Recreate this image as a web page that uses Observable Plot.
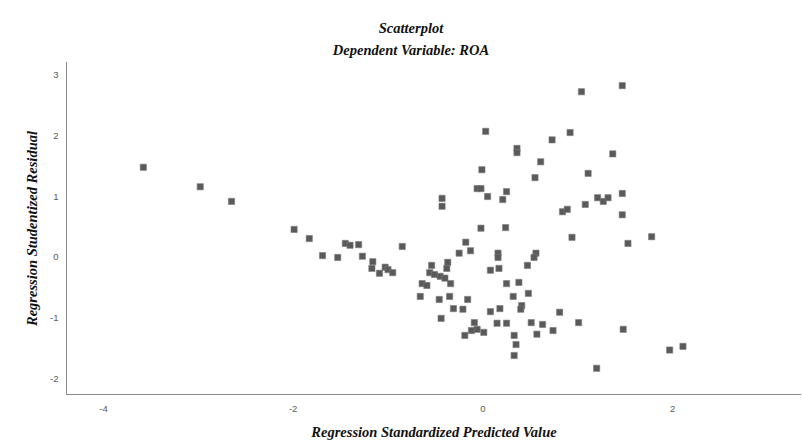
<!DOCTYPE html>
<html>
<head>
<meta charset="utf-8">
<script src="https://cdn.jsdelivr.net/npm/d3@7"></script>
<script src="https://cdn.jsdelivr.net/npm/@observablehq/plot@0.6"></script>
<style>
  html, body { margin: 0; padding: 0; background: #fff; }
  #wrap { width: 802px; height: 441px; overflow: hidden; position: relative; }
  .t { position: absolute; left: 0; width: 802px; text-align: center;
       font-family: "Liberation Serif", "DejaVu Serif", serif; font-weight: bold; font-style: italic;
       color: #111; line-height: 1; }
  #t1 { top: 21px; font-size: 14.5px; padding-left: 20px; box-sizing: border-box; }
  #t2 { top: 43px; font-size: 14.5px; padding-left: 20px; box-sizing: border-box; }
  #chart { position: absolute; top: 58px; left: 0; }
</style>
</head>
<body>
<div id="wrap">
  <div class="t" id="t1">Scatterplot</div>
  <div class="t" id="t2">Dependent Variable: ROA</div>
  <div id="chart"></div>
</div>
<script>
const predicted = [
  -3.58, -2.98, -2.65, -1.99, -1.83, -1.69, -1.53, -1.45, -1.40, -1.31,
  -1.27, -1.16, -1.17, -1.09, -1.03, -1.00, -0.95, -0.85, -0.66, -0.64,
  -0.59, -0.56, -0.51, -0.45, -0.40, -0.54, -0.37, -0.38, -0.34, -0.46,
  -0.35, -0.44, -0.31, -0.21, -0.43, -0.43, -0.16, -0.18, -0.25, -0.13,
  -0.09, -0.12, -0.06, 0.01, -0.19, 0.03, -0.01, -0.06, -0.02, 0.05,
  -0.02, 0.08, 0.17, 0.16, 0.16, 0.25, 0.38, 0.08, 0.18, 0.15,
  0.25, 0.21, 0.25, 0.24, 0.32, 0.33, 0.35, 0.33, 0.36, 0.36,
  0.41, 0.40, 0.47, 0.48, 0.51, 0.56, 0.54, 0.57, 0.55, 0.61,
  0.63, 0.73, 0.74, 0.81, 0.84, 0.89, 0.92, 0.94, 1.01, 1.04,
  1.08, 1.11, 1.20, 1.21, 1.27, 1.32, 1.37, 1.47, 1.47, 1.47,
  1.48, 1.53, 1.78, 1.97, 2.11
];
const residual = [
  1.48, 1.16, 0.92, 0.46, 0.31, 0.03, 0.00, 0.23, 0.20, 0.21,
  0.02, -0.07, -0.18, -0.26, -0.16, -0.20, -0.25, 0.18, -0.64, -0.43,
  -0.46, -0.25, -0.28, -0.31, -0.34, -0.13, -0.08, -0.18, -0.43, -0.69,
  -0.64, -1.00, -0.84, -0.85, 0.97, 0.84, -0.69, 0.25, 0.07, 0.11,
  -1.07, -1.20, -1.18, -1.23, -1.28, 2.07, 1.44, 1.13, 1.13, 1.00,
  0.48, -0.21, -0.18, 0.07, 0.00, -0.43, -0.41, -0.89, -0.84, -1.08,
  -1.08, 0.95, 1.08, 0.49, -0.64, -1.28, -1.43, -1.61, 1.79, 1.72,
  -0.79, -0.85, -0.13, -0.59, -1.07, 0.07, 0.00, -1.26, 1.31, 1.57,
  -1.10, 1.93, -1.20, -0.90, 0.75, 0.79, 2.05, 0.33, -1.07, 2.72,
  0.87, 1.38, -1.82, 0.98, 0.92, 0.98, 1.70, 2.82, 1.05, 0.70,
  -1.18, 0.23, 0.34, -1.52, -1.46
];
const xTicks = [-4, -2, 0, 2];
const yTicks = [-2, -1, 0, 1, 2, 3];
const xDomain = [-4.39, 3.36];
const yDomain = [-2.25, 3.2];
const xTitle = ["Regression Standardized Predicted Value"];
const yTitle = ["Regression Studentized Residual"];

const points = predicted.map((x, i) => ({x, y: residual[i]}));

const labelFont = {
  fontFamily: "Liberation Serif, DejaVu Serif, serif",
  fontWeight: "bold",
  fontStyle: "italic",
  fontSize: 14.5,
  fill: "#111",
  textAnchor: "middle",
  lineAnchor: "middle"
};

const chart = Plot.plot({
  width: 802,
  height: 383,
  marginLeft: 66,
  marginRight: 1,
  marginTop: 4,
  marginBottom: 47,
  style: {fontFamily: "Liberation Sans, Arial, sans-serif", fontSize: "9.5px", color: "#5a5a5a", background: "#fff", overflow: "visible"},
  x: {domain: xDomain, ticks: xTicks, tickSize: 0, tickPadding: 11, tickFormat: d => String(d), label: null},
  y: {domain: yDomain, ticks: yTicks, tickSize: 0, tickPadding: 8, tickFormat: d => String(d), label: null},
  marks: [
    Plot.ruleY([yDomain[0]], {stroke: "#8c8c8c", strokeWidth: 1}),
    Plot.ruleX([xDomain[0]], {stroke: "#8c8c8c", strokeWidth: 1}),
    Plot.dot(points, {x: "x", y: "y", symbol: "square", r: 3.5, fill: "#5a5a5a", stroke: "#7a7a7a", strokeWidth: 0.6}),
    Plot.text(xTitle, {text: d => d, frameAnchor: "bottom", dy: 38, ...labelFont}),
    Plot.text(yTitle, {text: d => d, frameAnchor: "left", rotate: -90, dx: -34, ...labelFont})
  ]
});
document.getElementById("chart").appendChild(chart);
</script>
</body>
</html>
